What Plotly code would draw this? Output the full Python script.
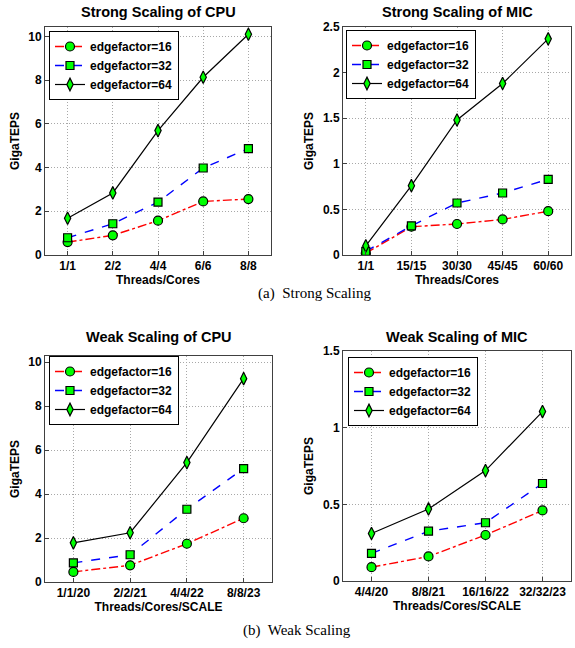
import plotly.graph_objects as go

W, H = 575, 648

# ---------------- data ----------------
series_names = ["edgefactor=16", "edgefactor=32", "edgefactor=64"]

strong_cpu_x = ["1/1", "2/2", "4/4", "6/6", "8/8"]
strong_cpu_ef16 = [0.59, 0.90, 1.57, 2.45, 2.56]
strong_cpu_ef32 = [0.79, 1.43, 2.42, 3.98, 4.87]
strong_cpu_ef64 = [1.68, 2.84, 5.69, 8.13, 10.10]

strong_mic_x = ["1/1", "15/15", "30/30", "45/45", "60/60"]
strong_mic_ef16 = [0.02, 0.31, 0.34, 0.39, 0.48]
strong_mic_ef32 = [0.04, 0.32, 0.57, 0.68, 0.83]
strong_mic_ef64 = [0.10, 0.76, 1.48, 1.88, 2.37]

weak_cpu_x = ["1/1/20", "2/2/21", "4/4/22", "8/8/23"]
weak_cpu_ef16 = [0.46, 0.76, 1.74, 2.90]
weak_cpu_ef32 = [0.87, 1.24, 3.31, 5.16]
weak_cpu_ef64 = [1.78, 2.24, 5.43, 9.25]

weak_mic_x = ["4/4/20", "8/8/21", "16/16/22", "32/32/23"]
weak_mic_ef16 = [0.09, 0.16, 0.30, 0.46]
weak_mic_ef32 = [0.18, 0.325, 0.38, 0.636]
weak_mic_ef64 = [0.31, 0.47, 0.72, 1.105]

titles = ["Strong Scaling of CPU", "Strong Scaling of MIC", "Weak Scaling of CPU", "Weak Scaling of MIC"]
xtitles = ["Threads/Cores", "Threads/Cores", "Threads/Cores/SCALE", "Threads/Cores/SCALE"]
ytitle = "GigaTEPS"
captions = ["(a)  Strong Scaling", "(b)  Weak Scaling"]

# ---------------- styling ----------------
FONT = "Liberation Sans, Arial, Helvetica, sans-serif"
SERIF = "Liberation Serif, Times New Roman, serif"
line_colors = ["#ff0000", "#0000ff", "#000000"]
line_dashes = ["dashdot", "dash", "solid"]
line_widths = [1.4, 1.4, 1.2]
symbols = ["circle", "square", "diamond-tall"]
msizes = [9, 8, 9]

def px_x(p):
    return p / W

def px_y(p):
    return 1 - p / H

# plot boxes in window pixels: (x0, x1, ytop, ybottom)
boxes = [
    (45, 271, 27, 255),
    (343, 571, 27, 255),
    (45, 272, 356, 582),
    (343, 571, 351, 581),
]
yranges = [[0, 10.43], [0, 2.5], [0, 10.28], [0, 1.5]]
ydticks = [2, 0.5, 2, 0.5]
legend_pos = [(49, 31), (346, 30), (49, 356), (348, 357)]

panels = [
    (strong_cpu_x, [strong_cpu_ef16, strong_cpu_ef32, strong_cpu_ef64]),
    (strong_mic_x, [strong_mic_ef16, strong_mic_ef32, strong_mic_ef64]),
    (weak_cpu_x, [weak_cpu_ef16, weak_cpu_ef32, weak_cpu_ef64]),
    (weak_mic_x, [weak_mic_ef16, weak_mic_ef32, weak_mic_ef64]),
]

fig = go.Figure()
layout = dict(
    width=W, height=H,
    margin=dict(l=0, r=0, t=0, b=0, autoexpand=False),
    paper_bgcolor="white", plot_bgcolor="white",
    font=dict(family=FONT, size=11, color="black"),
    annotations=[],
)

for i, (xcats, ys) in enumerate(panels):
    k = "" if i == 0 else str(i + 1)
    xa, ya = "x" + k, "y" + k
    lg = "legend" + k
    for j in range(3):
        fig.add_trace(go.Scatter(
            x=xcats, y=ys[j], xaxis=xa, yaxis=ya, legend=lg,
            name=series_names[j], mode="lines+markers",
            line=dict(color=line_colors[j], dash=line_dashes[j], width=line_widths[j]),
            marker=dict(symbol=symbols[j], size=msizes[j], color="#00ff00",
                        line=dict(color="black", width=1.2)),
        ))
    x0, x1, yt, yb = boxes[i]
    n = len(xcats)
    axis_common = dict(
        showline=True, linecolor="#404040", linewidth=1, mirror=True,
        ticks="inside", ticklen=4, tickcolor="#404040",
        showgrid=True, gridcolor="#a8a8a8", griddash="1px,2px", gridwidth=1,
        zeroline=False, automargin=False,
        tickfont=dict(family=FONT, size=12, color="black", weight="bold"),
    )
    layout["xaxis" + k] = dict(
        axis_common, domain=[px_x(x0), px_x(x1)], anchor=ya,
        type="category", range=[-0.5, n - 0.5],
        title=dict(text="<b>%s</b>" % xtitles[i], standoff=2,
                   font=dict(family=FONT, size=12, color="black")),
    )
    layout["yaxis" + k] = dict(
        axis_common, domain=[px_y(yb), px_y(yt)], anchor=xa,
        range=yranges[i], dtick=ydticks[i], tick0=0,
        title=dict(text="<b>%s</b>" % ytitle, standoff=6,
                   font=dict(family=FONT, size=12, color="black")),
    )
    lx, ly = legend_pos[i]
    layout[lg] = dict(
        x=px_x(lx), y=px_y(ly), xanchor="left", yanchor="top",
        xref="paper", yref="paper",
        bgcolor="white", bordercolor="black", borderwidth=1,
        font=dict(family=FONT, size=12, color="black", weight="bold"),
        tracegroupgap=0, itemwidth=30,
    )
    layout["annotations"].append(dict(
        text="<b>%s</b>" % titles[i], xref="paper", yref="paper",
        x=px_x((x0 + x1) / 2), y=px_y(12 if i < 2 else 337),
        xanchor="center", yanchor="middle", showarrow=False,
        font=dict(family=FONT, size=14.5, color="black"),
    ))

layout["annotations"].append(dict(
    text=captions[0], xref="paper", yref="paper", x=px_x(315), y=px_y(293),
    xanchor="center", yanchor="middle", showarrow=False,
    font=dict(family=SERIF, size=15, color="black")))
layout["annotations"].append(dict(
    text=captions[1], xref="paper", yref="paper", x=px_x(297), y=px_y(630),
    xanchor="center", yanchor="middle", showarrow=False,
    font=dict(family=SERIF, size=15, color="black")))

fig.update_layout(**layout)
# remove the browser's default 8px body margin so the figure fills the window
fig.write_html("out.html", config={"displayModeBar": False},
               post_script="document.body.style.margin='0';")
